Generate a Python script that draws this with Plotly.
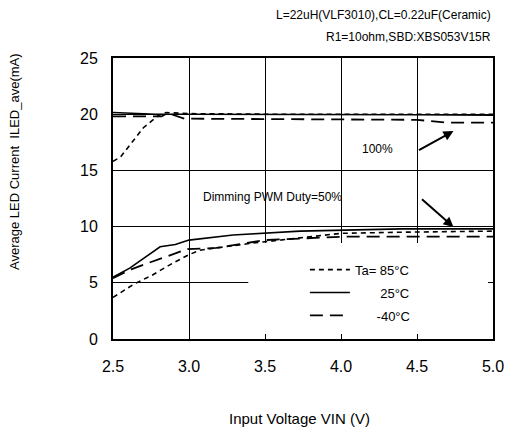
import plotly.graph_objects as go

# 100% duty curves
vin_85_100 = [2.5, 2.55, 2.7, 2.8, 2.85, 3.0, 3.5, 4.0, 4.5, 5.0]
iled_85_100 = [15.8, 16.2, 18.8, 19.9, 20.15, 20.05, 20.0, 20.0, 20.0, 20.0]
vin_25_100 = [2.5, 2.78, 3.0, 3.5, 4.0, 4.5, 5.0]
iled_25_100 = [20.15, 20.0, 20.0, 20.0, 19.95, 19.95, 19.9]
vin_m40_100 = [2.5, 2.82, 2.86, 2.97, 3.0, 3.5, 4.0, 4.5, 4.7, 5.0]
iled_m40_100 = [19.8, 19.8, 20.1, 19.6, 19.6, 19.55, 19.55, 19.5, 19.25, 19.25]

# 50% dimming duty curves
vin_85_50 = [2.5, 2.64, 2.76, 2.9, 3.0, 3.07, 3.4, 3.73, 4.0, 4.4, 5.0]
iled_85_50 = [3.7, 4.9, 5.7, 6.8, 7.5, 7.9, 8.5, 9.0, 9.4, 9.5, 9.6]
vin_25_50 = [2.5, 2.61, 2.81, 2.91, 3.0, 3.29, 3.73, 4.4, 5.0]
iled_25_50 = [5.5, 6.3, 8.2, 8.4, 8.8, 9.25, 9.6, 9.8, 9.8]
vin_m40_50 = [2.5, 2.62, 2.74, 2.86, 2.99, 3.18, 3.5, 4.0, 5.0]
iled_m40_50 = [5.4, 6.2, 6.8, 7.4, 8.0, 8.1, 8.8, 9.1, 9.1]

x_ticks = [2.5, 3.0, 3.5, 4.0, 4.5, 5.0]
y_ticks = [0, 5, 10, 15, 20, 25]

FONT = "Liberation Sans, Arial, sans-serif"
NB = "\u00a0"

fig = go.Figure()

styles = {
    "85": dict(color="black", width=1.6, dash="5px,4px"),
    "25": dict(color="black", width=1.6),
    "-40": dict(color="black", width=1.8, dash="13px,7px"),
}

fig.add_trace(go.Scatter(x=vin_85_100, y=iled_85_100, mode="lines", line=styles["85"],
                         name="Ta= 85\u00b0C", legendgroup="85"))
fig.add_trace(go.Scatter(x=vin_25_100, y=iled_25_100, mode="lines", line=styles["25"],
                         name=NB * 7 + "25\u00b0C", legendgroup="25"))
fig.add_trace(go.Scatter(x=vin_m40_100, y=iled_m40_100, mode="lines", line=styles["-40"],
                         name=NB * 6 + "-40\u00b0C", legendgroup="-40"))
fig.add_trace(go.Scatter(x=vin_85_50, y=iled_85_50, mode="lines", line=styles["85"],
                         showlegend=False, legendgroup="85"))
fig.add_trace(go.Scatter(x=vin_25_50, y=iled_25_50, mode="lines", line=styles["25"],
                         showlegend=False, legendgroup="25"))
fig.add_trace(go.Scatter(x=vin_m40_50, y=iled_m40_50, mode="lines", line=styles["-40"],
                         showlegend=False, legendgroup="-40"))

# white legend box hiding the grid
fig.add_shape(type="rect", x0=3.39, x1=5.0, y0=0, y1=8.55, layer="between",
              fillcolor="white", line=dict(width=0))

axis = dict(showline=True, linecolor="black", linewidth=2, mirror="ticks",
            ticks="inside", ticklen=5, tickcolor="black", automargin=False,
            showgrid=True, gridcolor="black", gridwidth=1, zeroline=False,
            tickfont=dict(family=FONT, size=16, color="black"))

fig.update_xaxes(range=[2.5, 5.0], tickvals=x_ticks, tickformat=".1f",
                 ticklabelstandoff=12, **axis)
fig.update_yaxes(range=[0, 25], tickvals=y_ticks, ticklabelstandoff=10, **axis)

ann = dict(showarrow=False, font=dict(family=FONT, size=12, color="black"))
fig.add_annotation(text="L=22uH(VLF3010),CL=0.22uF(Ceramic)", xref="paper", yref="paper",
                   x=1.0, y=1.0, xanchor="right", yanchor="middle", yshift=43, **ann)
fig.add_annotation(text="R1=10ohm,SBD:XBS053V15R", xref="paper", yref="paper",
                   x=1.0, y=1.0, xanchor="right", yanchor="middle", yshift=21, **ann)
fig.add_annotation(text="100%", x=4.24, y=16.9, **ann)
fig.add_annotation(text="Dimming PWM Duty=50%", x=3.55, y=12.6, **ann)
fig.add_annotation(text="Input Voltage VIN (V)", xref="paper", yref="paper",
                   x=0.49, y=0, yshift=-79, xanchor="center", yanchor="middle",
                   showarrow=False, font=dict(family=FONT, size=15, color="black"))
fig.add_annotation(text="Average LED Current  ILED_ave(mA)", xref="paper", yref="paper",
                   x=0, xshift=-98, y=0.63, textangle=-90, xanchor="center", yanchor="middle",
                   showarrow=False, font=dict(family=FONT, size=13, color="black"))

arrow = dict(showarrow=True, arrowhead=2, arrowsize=1, arrowwidth=2, arrowcolor="black", text="")
fig.add_annotation(x=4.74, y=18.5, ax=-36, ay=20, **arrow)
fig.add_annotation(x=4.74, y=9.96, ax=-33, ay=-29, **arrow)

fig.update_layout(
    width=505, height=428,
    margin=dict(l=113, r=12, t=58, b=89, autoexpand=False),
    plot_bgcolor="white", paper_bgcolor="white",
    font=dict(family=FONT, color="black"),
    legend=dict(x=0.505, y=0.30, xanchor="left", yanchor="top", bgcolor="rgba(0,0,0,0)",
                font=dict(family=FONT, size=13, color="black"), tracegroupgap=3,
                traceorder="grouped", itemwidth=40),
    showlegend=True,
)

fig.write_html("out.html", config={"displayModeBar": False},
               post_script="document.body.style.margin='0';")
